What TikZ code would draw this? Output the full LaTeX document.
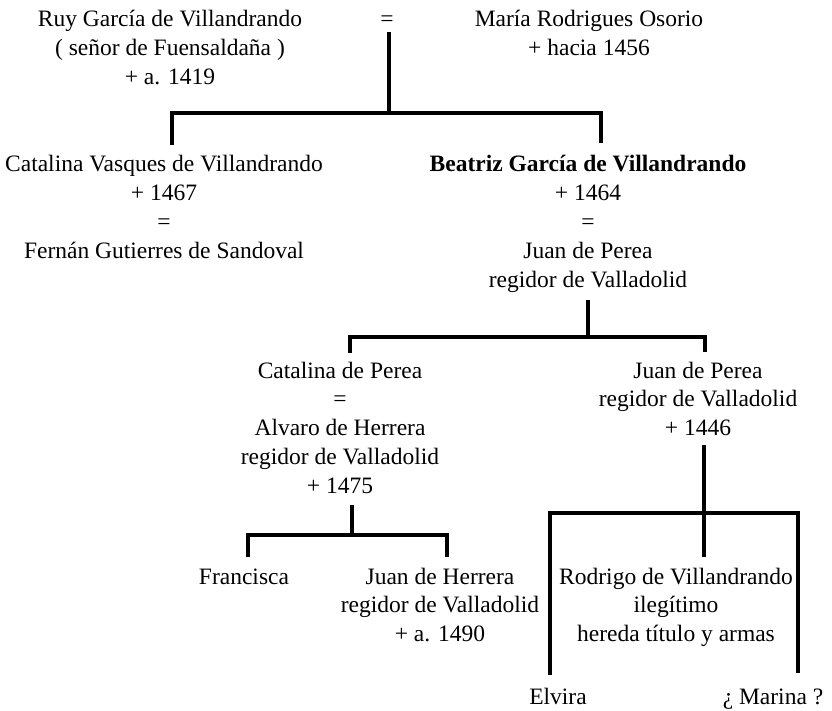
\documentclass[tikz,border=0pt]{standalone}
\usepackage{fontspec}
\setmainfont{Liberation Serif}
\usetikzlibrary{positioning}
\tikzset{
  persona/.style={anchor=base,align=center,inner sep=0pt},
  linea/.style={line width=3.2pt}
}

\begin{document}
\begin{tikzpicture}[x=1pt,y=-1pt,font=\fontsize{23.5}{28.8}\selectfont]
  \useasboundingbox (0,0) rectangle (832,711);
  % primera generacion (base = ultima linea)
  \node[persona] (ruy) at (170,84.6) {Ruy García de Villandrando\\( señor de Fuensaldaña )\\+ a. 1419};
  \node[persona] (eq1) at (387,27) {=};
  \node[persona] (maria) at (589,55.8) {María Rodrigues Osorio\\+ hacia 1456};
  % hijas
  \node[persona] (catv) at (164,258.4) {Catalina Vasques de Villandrando\\+ 1467\\=\\Fernán Gutierres de Sandoval};
  \node[persona] (beatriz) at (588,287.2) {\textbf{Beatriz García de Villandrando}\\+ 1464\\=\\Juan de Perea\\regidor de Valladolid};
  % nietos
  \node[persona] (catp) at (340,493.2) {Catalina de Perea\\=\\Alvaro de Herrera\\regidor de Valladolid\\+ 1475};
  \node[persona] (juanp) at (698,435.6) {Juan de Perea\\regidor de Valladolid\\+ 1446};
  % bisnietos
  \node[persona] (fran) at (244,584) {Francisca};
  \node[persona] (juanh) at (440,641.6) {Juan de Herrera\\regidor de Valladolid\\+ a. 1490};
  \node[persona] (rod) at (676,641.6) {Rodrigo de Villandrando\\ilegítimo\\hereda título y armas};
  \node[persona] (elvira) at (558,704) {Elvira};
  \node[persona] (marina) at (773,704) {¿ Marina ?};
  % puntos de las lineas
  \coordinate (a0) at (389,32);
  \coordinate (a1) at (389,113);
  \coordinate (aL) at (172,145);
  \coordinate (aR) at (601,143);
  \coordinate (b0) at (588,300);
  \coordinate (b1) at (588,337);
  \coordinate (bL) at (350,353);
  \coordinate (bR) at (705,352);
  \coordinate (c0) at (352,505);
  \coordinate (c1) at (352,535);
  \coordinate (cL) at (248,557);
  \coordinate (cR) at (447,557);
  \coordinate (d0) at (704,445);
  \coordinate (d1) at (704,513);
  \coordinate (dM) at (704,557);
  \coordinate (dL) at (550,675);
  \coordinate (dR) at (798,673);
  % lineas
  \draw[linea] (a0) -- (a1);
  \draw[linea] (aL) |- (a1) -| (aR);
  \draw[linea] (b0) -- (b1);
  \draw[linea] (bL) |- (b1) -| (bR);
  \draw[linea] (c0) -- (c1);
  \draw[linea] (cL) |- (c1) -| (cR);
  \draw[linea] (d0) -- (dM);
  \draw[linea] (dL) |- (d1) -| (dR);
\end{tikzpicture}
\end{document}
